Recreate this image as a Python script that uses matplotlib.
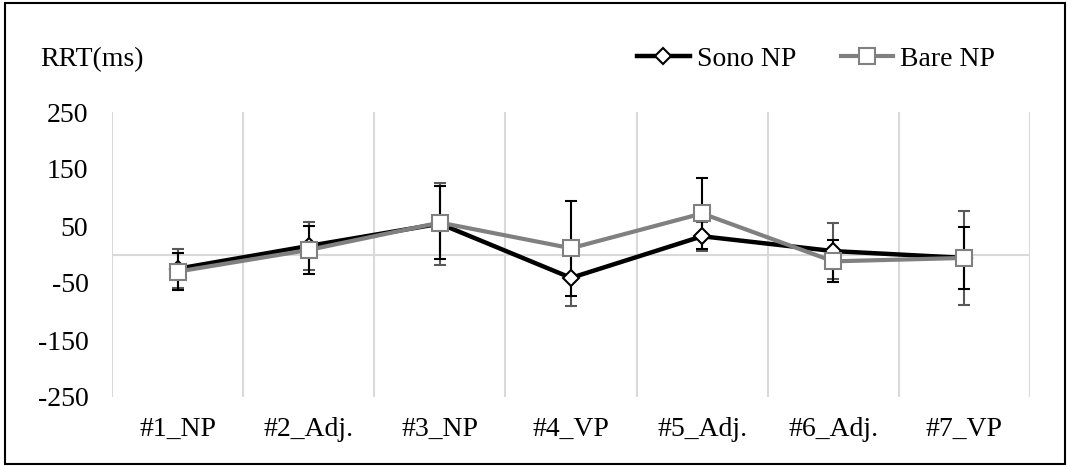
import matplotlib
matplotlib.use('Agg')
import matplotlib.pyplot as plt
from matplotlib.patches import Rectangle
import numpy as np

# Reaction-time differences per region (ms), with error ranges
categories = ['#1_NP', '#2_Adj.', '#3_NP', '#4_VP', '#5_Adj.', '#6_Adj.', '#7_VP']
sono_mean = [-25, 15, 54, -41, 32, 6, -6]
sono_err = [34, 42, 72, 49, 25, 49, 83]
bare_mean = [-30, 8, 56, 11, 72, -12, -6]
bare_err = [33, 42, 64, 83, 62, 37, 55]
y_ticks = [-250, -150, -50, 50, 150, 250]

plt.rcParams['font.family'] = ['Liberation Serif', 'DejaVu Serif']

W, H = 1070, 466
fig = plt.figure(figsize=(W / 100, H / 100), dpi=100)
ax = fig.add_axes([112 / W, 1 - 397 / H, (1030 - 112) / W, (397 - 112) / H])

x = np.arange(1, len(categories) + 1)
ax.set_xlim(0.5, len(categories) + 0.5)
ax.set_ylim(-250, 250)

grid_col = '#d9d9d9'
for b in np.arange(0.5, len(categories) + 1, 1.0):
    ax.axvline(b, color=grid_col, lw=1.5, zorder=0)
ax.axhline(0, color=grid_col, lw=1.5, zorder=0)
for s in ax.spines.values():
    s.set_visible(False)

ax.set_yticks(y_ticks)
ax.set_yticklabels([str(v) for v in y_ticks])
ax.set_xticks(x)
ax.set_xticklabels(categories)
ax.tick_params(axis='both', length=0, labelsize=20)
ax.tick_params(axis='y', pad=17)
ax.tick_params(axis='x', pad=14.5)

ax.errorbar(x, sono_mean, yerr=sono_err, fmt='none', ecolor='#595959',
            elinewidth=1.5, capsize=4.3, capthick=1.5, zorder=2)
ax.errorbar(x, bare_mean, yerr=bare_err, fmt='none', ecolor='black',
            elinewidth=1.5, capsize=4.3, capthick=1.5, zorder=3)
l1, = ax.plot(x, sono_mean, color='black', lw=3.2, marker='D', ms=8.5,
              mfc='white', mec='black', mew=1.5, zorder=4)
l2, = ax.plot(x, bare_mean, color='#808080', lw=3.0, marker='s', ms=11.5,
              mfc='white', mec='#808080', mew=1.5, zorder=5)

ax.legend([l1, l2], ['Sono NP', 'Bare NP'], loc='center left',
          bbox_to_anchor=(637 / W, 1 - 59 / H), bbox_transform=fig.transFigure,
          ncol=2, frameon=False, fontsize=20, handlelength=1.9,
          handletextpad=0.25, columnspacing=1.6, borderpad=0, borderaxespad=0)

fig.text(40 / W, 1 - 60 / H, 'RRT(ms)', fontsize=20, ha='left', va='center')

fig.patches.append(Rectangle((5 / W, 2 / H), 1060 / W, 461 / H,
                             transform=fig.transFigure, fill=False,
                             ec='black', lw=1.5))

fig.savefig('out.png', dpi=100)
